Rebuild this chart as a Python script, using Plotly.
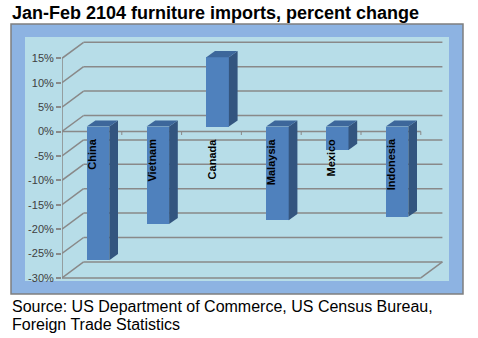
import plotly.graph_objects as go

# ---------------- data ----------------
categories = ["China", "Vietnam", "Canada", "Malaysia", "Mexico", "Indonesia"]
pct_change = [-27.4, -20.0, 14.2, -19.2, -4.8, -18.5]
tick_vals = [15, 10, 5, 0, -5, -10, -15, -20, -25, -30]
tick_text = ["15%", "10%", "5%", "0%", "-5%", "-10%", "-15%", "-20%", "-25%", "-30%"]
title_text = "Jan-Feb 2104 furniture imports, percent change"
source_lines = ["Source: US Department of Commerce, US Census Bureau,",
                "Foreign Trade Statistics"]

# ---------------- styling / geometry ----------------
W, H = 478, 338
PX_PER_CAT = 59.8
PX_PER_PCT = 4.88
PLOT_L, PLOT_R, PLOT_T, PLOT_B = 62, 449, 37, 281
ZERO_PX = 131.5

x_lo = -0.5
x_hi = x_lo + (PLOT_R - PLOT_L) / PX_PER_CAT
y_hi = (ZERO_PX - PLOT_T) / PX_PER_PCT
y_lo = -(PLOT_B - ZERO_PX) / PX_PER_PCT

# depth offsets (in data units)
wall_dx, wall_dy = 21.6 / PX_PER_CAT, 16.0 / PX_PER_PCT
face_dx, face_dy = 6.1 / PX_PER_CAT, 5.0 / PX_PER_PCT
bar_dx, bar_dy = 8.7 / PX_PER_CAT, 6.1 / PX_PER_PCT
bar_w = 22.6 / PX_PER_CAT

FRONT = "#4f81bd"
SIDE = "#33557f"
TOP = "#3d679b"
GRID = "#898989"
n = len(categories)
y_min_tick, y_max_tick = min(tick_vals), max(tick_vals)

fig = go.Figure()

# front faces
fig.add_trace(go.Bar(
    x=[i + face_dx for i in range(n)], y=pct_change, base=[face_dy] * n,
    width=bar_w, marker=dict(color=FRONT, line=dict(width=0)),
    hoverinfo="skip", showlegend=False))

# side and top faces
for i, v in enumerate(pct_change):
    xl = i + face_dx - bar_w / 2
    xr = i + face_dx + bar_w / 2
    lo = min(v, 0) + face_dy
    hi = max(v, 0) + face_dy
    fig.add_trace(go.Scatter(
        x=[xr, xr + bar_dx, xr + bar_dx, xr, xr],
        y=[hi, hi + bar_dy, lo + bar_dy, lo, hi],
        mode="lines", fill="toself", fillcolor=SIDE, line=dict(width=0),
        hoverinfo="skip", showlegend=False))
    fig.add_trace(go.Scatter(
        x=[xl, xl + bar_dx, xr + bar_dx, xr, xl],
        y=[hi, hi + bar_dy, hi + bar_dy, hi, hi],
        mode="lines", fill="toself", fillcolor=TOP, line=dict(width=0),
        hoverinfo="skip", showlegend=False))


# paper coordinates are relative to the plot area
def px(xp):
    return (xp - PLOT_L) / (PLOT_R - PLOT_L)


def py(yp):
    return (PLOT_B - yp) / (PLOT_B - PLOT_T)


shapes = []
shapes.append(dict(type="rect", xref="paper", yref="paper", layer="below",
                   x0=px(11), x1=px(463), y0=py(24), y1=py(294),
                   fillcolor="#8db3e2", line=dict(color="#7f7f7f", width=1.5)))
shapes.append(dict(type="rect", xref="paper", yref="paper", layer="below",
                   x0=px(25), x1=px(449), y0=py(37), y1=py(281),
                   fillcolor="#b7dde8", line=dict(width=0)))

gl = dict(color=GRID, width=1.5)
# back wall gridlines + left diagonals
for t in tick_vals:
    shapes.append(dict(type="line", xref="x", yref="y", layer="below",
                       x0=x_lo + wall_dx, x1=x_lo + n + wall_dx,
                       y0=t + wall_dy, y1=t + wall_dy, line=gl))
    shapes.append(dict(type="line", xref="x", yref="y", layer="below",
                       x0=x_lo, x1=x_lo + wall_dx, y0=t, y1=t + wall_dy, line=gl))
# floor front edge and right diagonal
shapes.append(dict(type="line", xref="x", yref="y", layer="below",
                   x0=x_lo, x1=x_lo + n, y0=y_min_tick, y1=y_min_tick, line=gl))
shapes.append(dict(type="line", xref="x", yref="y", layer="below",
                   x0=x_lo + n, x1=x_lo + n + wall_dx,
                   y0=y_min_tick, y1=y_min_tick + wall_dy, line=gl))
# front value axis line
shapes.append(dict(type="line", xref="x", yref="y", layer="below",
                   x0=x_lo, x1=x_lo, y0=y_min_tick, y1=y_max_tick, line=gl))
# category axis at zero with tick marks
shapes.append(dict(type="line", xref="x", yref="y", layer="below",
                   x0=x_lo, x1=x_lo + n, y0=0, y1=0, line=gl))
for k in range(n + 1):
    shapes.append(dict(type="line", xref="x", yref="y", layer="below",
                       x0=x_lo + k, x1=x_lo + k, y0=0, y1=-3.5 / PX_PER_PCT,
                       line=dict(color=GRID, width=1)))

annotations = []
for i, c in enumerate(categories):
    annotations.append(dict(x=i, y=-1.0, xref="x", yref="y", text="<b>%s</b>" % c,
                            textangle=-90, showarrow=False, xanchor="center",
                            yanchor="top",
                            font=dict(family="Liberation Sans", size=11, color="black")))
annotations.append(dict(x=px(10), y=py(1), xref="paper", yref="paper",
                        text="<b>%s</b>" % title_text, showarrow=False,
                        xanchor="left", yanchor="top",
                        font=dict(family="Liberation Sans", size=18, color="black")))
for j, line in enumerate(source_lines):
    annotations.append(dict(x=px(10), y=py(296 + 17.5 * j), xref="paper", yref="paper",
                            text=line, showarrow=False, xanchor="left", yanchor="top",
                            font=dict(family="Liberation Sans", size=16, color="black")))

fig.update_layout(
    width=W, height=H,
    margin=dict(l=PLOT_L, r=W - PLOT_R, t=PLOT_T, b=H - PLOT_B, pad=0),
    paper_bgcolor="white", plot_bgcolor="rgba(0,0,0,0)",
    xaxis=dict(range=[x_lo, x_hi], visible=False, fixedrange=True),
    yaxis=dict(range=[y_lo, y_hi], tickvals=tick_vals, ticktext=tick_text,
               showgrid=False, zeroline=False, showline=False,
               ticks="outside", ticklen=5, tickwidth=1.5, tickcolor=GRID,
               tickfont=dict(family="Liberation Sans", size=11, color="#404040"),
               fixedrange=True),
    shapes=shapes, annotations=annotations, bargap=0,
)

fig.write_html("out.html")
